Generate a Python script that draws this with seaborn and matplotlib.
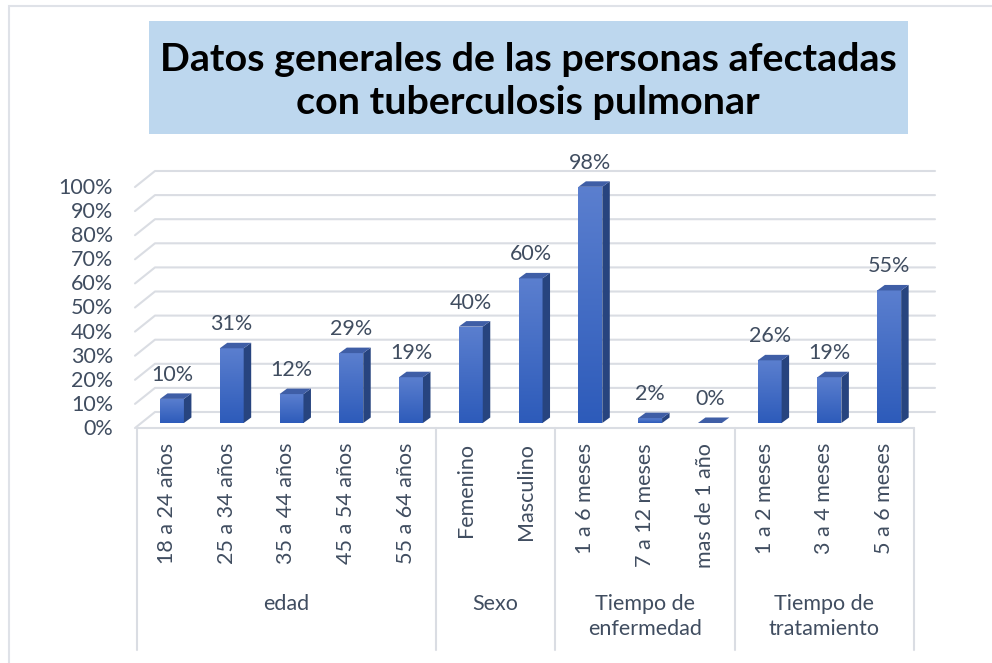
import matplotlib
matplotlib.use("Agg")
import matplotlib.pyplot as plt
import matplotlib.transforms as mtransforms
from matplotlib.patches import Polygon, Rectangle
from matplotlib.colors import LinearSegmentedColormap
import numpy as np
import seaborn as sns

categorias = ["18 a 24 años", "25 a 34 años", "35 a 44 años", "45 a 54 años", "55 a 64 años",
              "Femenino", "Masculino",
              "1 a 6 meses", "7 a 12 meses", "mas de 1 año",
              "1 a 2 meses", "3 a 4 meses", "5 a 6 meses"]
porcentajes = [10, 31, 12, 29, 19, 40, 60, 98, 2, 0, 26, 19, 55]
grupos = ["edad", "Sexo", "Tiempo de\nenfermedad", "Tiempo de\ntratamiento"]
tam_grupos = [5, 2, 3, 3]
yticks = [0, 10, 20, 30, 40, 50, 60, 70, 80, 90, 100]
titulo = "Datos generales de las personas afectadas\ncon tuberculosis pulmonar"

W, H = 992, 663
TXT = "#404D60"
GRID = "#DADDE3"
FS = 15.5

sns.set_style("white")
plt.rcParams["font.family"] = ["Lato", "DejaVu Sans"]

fig = plt.figure(figsize=(W / 100, H / 100), dpi=100)
ax = fig.add_axes([137 / W, 1 - 423 / H, 777 / W, 241 / H])

vals = [p / 100 for p in porcentajes]
sns.barplot(x=categorias, y=vals, color="#3A64C0", width=0.4, saturation=1, ax=ax)
n = len(categorias)
ax.set_xlim(-0.5, n - 0.5)
ax.set_ylim(0, 1)
ax.set_axis_off()

ident = mtransforms.IdentityTransform()

def off(tr, x=0, y=0):
    return mtransforms.offset_copy(tr, fig=fig, x=x, y=y, units="dots")

# grid: back wall lines + left slant
xl = ax.bbox.x0
xr = ax.bbox.x1
for t in yticks:
    yb = ax.transData.transform((0, t / 100))[1]
    ax.plot([xl - 2, xl + 18, xr + 21], [yb - 5, yb + 11, yb + 11], transform=ident,
            color=GRID, lw=1.5, clip_on=False, zorder=0)
    ax.text(xl - 24, yb - 6, f"{t}%", transform=ident, ha="right", va="center",
            fontsize=FS, color=TXT)

# floor front edge and group separators
xa = ax.get_xaxis_transform()
ax.plot([-0.5, n - 0.5], [0, 0], transform=off(xa, y=-5), color=GRID, lw=1.5, clip_on=False)
bordes = np.concatenate([[0], np.cumsum(tam_grupos)]) - 0.5
for b in bordes:
    p0 = off(xa, y=-5).transform((b, 0))
    p1 = off(xa, y=-227).transform((b, 0))
    ax.plot([p0[0], p1[0]], [p0[1], p1[1]], transform=ident, color=GRID, lw=1.5, clip_on=False)

# category labels
for i, c in enumerate(categorias):
    ax.text(i, 0, c, rotation=90, ha="center", va="top", transform=off(xa, y=-20),
            fontsize=FS, color=TXT)

# group labels
for g, a, b in zip(grupos, bordes[:-1], bordes[1:]):
    ax.text((a + b) / 2, 0, g, ha="center", va="top", transform=off(xa, y=-171),
            fontsize=FS, color=TXT, linespacing=1.3)

# 3D-like bars
cmap_front = LinearSegmentedColormap.from_list("front", ["#2D5BBA", "#5B7FCF"])
dw, dh = 7.5, 5.5
grad = np.linspace(0, 1, 256).reshape(-1, 1)
for patch, v, p in zip(ax.patches, vals, porcentajes):
    patch.set_x(patch.get_x() + 0.085)
    x0 = patch.get_x()
    x1 = x0 + patch.get_width()
    patch.set_facecolor("none")
    patch.set_edgecolor("none")
    if v > 0:
        im = ax.imshow(grad, extent=[x0, x1, 0, v], origin="lower", cmap=cmap_front,
                       aspect="auto", zorder=3, interpolation="bilinear")
        im.set_clip_path(patch)
    (X0, Y0) = ax.transData.transform((x0, 0))
    (X1, Y1) = ax.transData.transform((x1, v))
    side = Polygon([(X1, Y0), (X1, Y1), (X1 + dw, Y1 + dh), (X1 + dw, Y0 + dh)],
                   closed=True, transform=ident, facecolor="#27447F", edgecolor="none",
                   zorder=3, clip_on=False)
    top = Polygon([(X0, Y1), (X1, Y1), (X1 + dw, Y1 + dh), (X0 + dw, Y1 + dh)],
                  closed=True, transform=ident, facecolor="#3F5EA6", edgecolor="none",
                  zorder=3, clip_on=False)
    ax.add_patch(side)
    ax.add_patch(top)
    ax.text((x0 + x1) / 2, v, f"{p}%", ha="center", va="baseline",
            transform=off(ax.transData, y=18), fontsize=FS, color=TXT)

ax.set_xlim(-0.5, n - 0.5)
ax.set_ylim(0, 1)

# chart border and title box
fig.add_artist(Rectangle((9 / W, -0.05), 1.1, 1 - 6 / H + 0.05, transform=fig.transFigure,
                         fill=False, edgecolor="#DFE2E8", lw=1.5))
fig.add_artist(Rectangle((149 / W, 1 - 134 / H), 759 / W, 113 / H, transform=fig.transFigure,
                         facecolor="#BDD7EE", edgecolor="none"))
fig.text(528 / W, 1 - 81 / H, titulo, ha="center", va="center", fontsize=28.4,
         fontweight="bold", color="black", linespacing=1.25)

fig.savefig("out.png", dpi=100)
